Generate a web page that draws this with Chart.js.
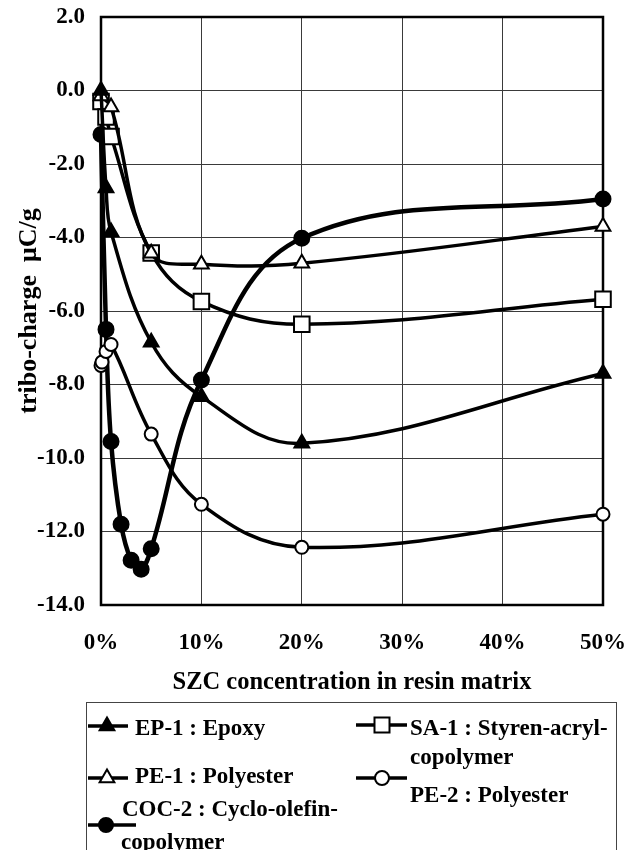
<!DOCTYPE html>
<html><head><meta charset="utf-8">
<script src="https://cdn.jsdelivr.net/npm/chart.js@4.4.0/dist/chart.umd.min.js"></script>
<style>
html,body{margin:0;padding:0;background:#fff;}
#wrap{position:relative;width:627px;height:850px;overflow:hidden;font-family:"Liberation Serif","Times New Roman",serif;font-weight:bold;}
#cbox{position:absolute;left:0;top:0;width:627px;height:700px;}
#legend{position:absolute;border:1px solid #444;box-sizing:border-box;}
.lt{position:absolute;font-size:23px;line-height:25px;white-space:nowrap;color:#000;transform:translateY(-50%);}
svg.s{position:absolute;left:0;top:0;overflow:visible;}
</style></head><body>
<div id="wrap">
<div id="cbox"><canvas id="c" width="627" height="700"></canvas></div>
<div id="legend"></div>
<svg class="s" id="lsvg" width="627" height="850"></svg>
</div>
<script>
// ---- data (x = SZC concentration %, y = tribo-charge µC/g) ----
const concEP1   = [0, 0.5, 1, 5, 10, 20, 50];
const chargeEP1 = [0.0, -2.65, -3.85, -6.85, -8.33, -9.6, -7.7];
const concPE1   = [0, 1, 5, 10, 20, 50];
const chargePE1 = [-0.15, -0.45, -4.43, -4.73, -4.7, -3.7];
const concSA1   = [0, 0.5, 1, 5, 10, 20, 50];
const chargeSA1 = [-0.3, -0.72, -1.25, -4.42, -5.74, -6.36, -5.68];
const concPE2   = [0, 0.1, 0.5, 1, 5, 10, 20, 50];
const chargePE2 = [-7.48, -7.39, -7.1, -6.91, -9.35, -11.26, -12.43, -11.53];
const concCOC2  = [0, 0.5, 1, 2, 3, 4, 5, 10, 20, 50];
const chargeCOC2= [-1.2, -6.5, -9.55, -11.8, -12.78, -13.03, -12.47, -7.88, -4.02, -2.95];

const seriesNames = ["EP-1 : Epoxy", "PE-1 : Polyester", "COC-2 : Cyclo-olefin-copolymer", "SA-1 : Styren-acryl-copolymer", "PE-2 : Polyester"];
const xTicks = [0, 10, 20, 30, 40, 50];
const yTicks = [2, 0, -2, -4, -6, -8, -10, -12, -14];
const xTitle = "SZC concentration in resin matrix";
const yTitle = "tribo-charge  \u03bcC/g";

const pts = (xs, ys) => xs.map((x, i) => ({x: x, y: ys[i]}));
const FONT = "'Liberation Serif', 'Times New Roman', serif";

const ds = (label, xs, ys, style, fill, r, bw) => ({
  label, data: pts(xs, ys), pointStyle: style, pointRadius: r, pointHoverRadius: r,
  pointBackgroundColor: fill, pointBorderColor: '#000', pointBorderWidth: 2,
  borderColor: '#000', borderWidth: bw, backgroundColor: fill, tension: 0.38, clip: false, fill: false
});

const datasets = [
  ds(seriesNames[0], concEP1, chargeEP1, 'triangle', '#000', 8.5, 3.5),
  ds(seriesNames[1], concPE1, chargePE1, 'triangle', '#fff', 8.5, 3.5),
  ds(seriesNames[3], concSA1, chargeSA1, 'rect', '#fff', 11, 3.5),
  ds(seriesNames[4], concPE2, chargePE2, 'circle', '#fff', 6.5, 3.5),
  ds(seriesNames[2], concCOC2, chargeCOC2, 'circle', '#000', 7.5, 4.5)
];

const frame = {
  id: 'frame',
  beforeDatasetsDraw(chart) {
    const {ctx, chartArea: a} = chart;
    ctx.save(); ctx.strokeStyle = '#000'; ctx.lineWidth = 2.5;
    ctx.strokeRect(a.left, a.top, a.right - a.left, a.bottom - a.top);
    ctx.restore();
  }
};

new Chart(document.getElementById('c'), {
  type: 'line',
  data: { datasets },
  plugins: [frame],
  options: {
    responsive: false, animation: false, events: [],
    layout: { padding: { top: 17, right: 24, left: 0, bottom: 0 } },
    plugins: { legend: { display: false }, tooltip: { enabled: false } },
    scales: {
      x: {
        type: 'linear', min: 0, max: 50,
        afterBuildTicks: s => { s.ticks = xTicks.map(v => ({value: v})); },
        afterFit: s => { s.height = 95; s.paddingLeft = 0; s.paddingRight = 0; },
        grid: { color: '#3a3a3a', lineWidth: 1, drawTicks: false },
        border: { display: false },
        ticks: { color: '#000', padding: 24, maxRotation: 0, font: { family: FONT, size: 23, weight: 'bold' }, callback: v => v + '%' },
        title: { display: true, text: xTitle, color: '#000', padding: { top: 0, bottom: 3 }, font: { family: FONT, size: 24.5, weight: 'bold' } }
      },
      y: {
        type: 'linear', min: -14, max: 2,
        afterBuildTicks: s => { s.ticks = yTicks.map(v => ({value: v})); },
        afterFit: s => { s.width = 101; s.paddingTop = 0; s.paddingBottom = 0; },
        grid: { color: '#3a3a3a', lineWidth: 1, drawTicks: false },
        border: { display: false },
        ticks: { color: '#000', padding: 16, font: { family: FONT, size: 23, weight: 'bold' }, callback: v => Number(v).toFixed(1) },
        title: { display: true, text: yTitle, color: '#000', padding: { top: 14, bottom: 0 }, font: { family: FONT, size: 26, weight: 'bold' } }
      }
    }
  }
});

// ---- HTML legend ----
const L = { left: 86, top: 702, right: 617 };
const lg = document.getElementById('legend');
lg.style.left = L.left + 'px'; lg.style.top = L.top + 'px';
lg.style.width = (L.right - L.left) + 'px'; lg.style.height = '200px';
const svg = document.getElementById('lsvg');
const NS = 'http://www.w3.org/2000/svg';
function el(name, attrs) { const e = document.createElementNS(NS, name); for (const k in attrs) e.setAttribute(k, attrs[k]); svg.appendChild(e); return e; }
function sample(x1, x2, y, mx, shape, fill) {
  el('line', {x1, x2, y1: y, y2: y, stroke: '#000', 'stroke-width': 3.5});
  if (shape === 'triangle') {
    const r = 8.5;
    el('polygon', {points: `${mx},${y - r} ${mx + r * 0.866},${y + r / 2} ${mx - r * 0.866},${y + r / 2}`, fill, stroke: '#000', 'stroke-width': 2});
  } else if (shape === 'rect') {
    el('rect', {x: mx - 7.5, y: y - 7.5, width: 15, height: 15, fill, stroke: '#000', 'stroke-width': 2});
  } else {
    el('circle', {cx: mx, cy: y, r: 7, fill, stroke: '#000', 'stroke-width': 2});
  }
}
function text(x, y, s) {
  const d = document.createElement('div'); d.className = 'lt'; d.textContent = s;
  d.style.left = x + 'px'; d.style.top = y + 'px';
  document.getElementById('wrap').appendChild(d);
}
sample(88, 128, 726, 107, 'triangle', '#000'); text(135, 727, 'EP-1 : Epoxy');
sample(88, 128, 778, 107, 'triangle', '#fff'); text(135, 775, 'PE-1 : Polyester');
sample(88, 136, 825, 106, 'circle', '#000'); text(122, 808, 'COC-2 : Cyclo-olefin-'); text(121, 841, 'copolymer');
sample(356, 407, 725, 382, 'rect', '#fff'); text(410, 727, 'SA-1 : Styren-acryl-'); text(410, 756, 'copolymer');
sample(356, 407, 778, 382, 'circle', '#fff'); text(410, 794, 'PE-2 : Polyester');
</script>
</body></html>
